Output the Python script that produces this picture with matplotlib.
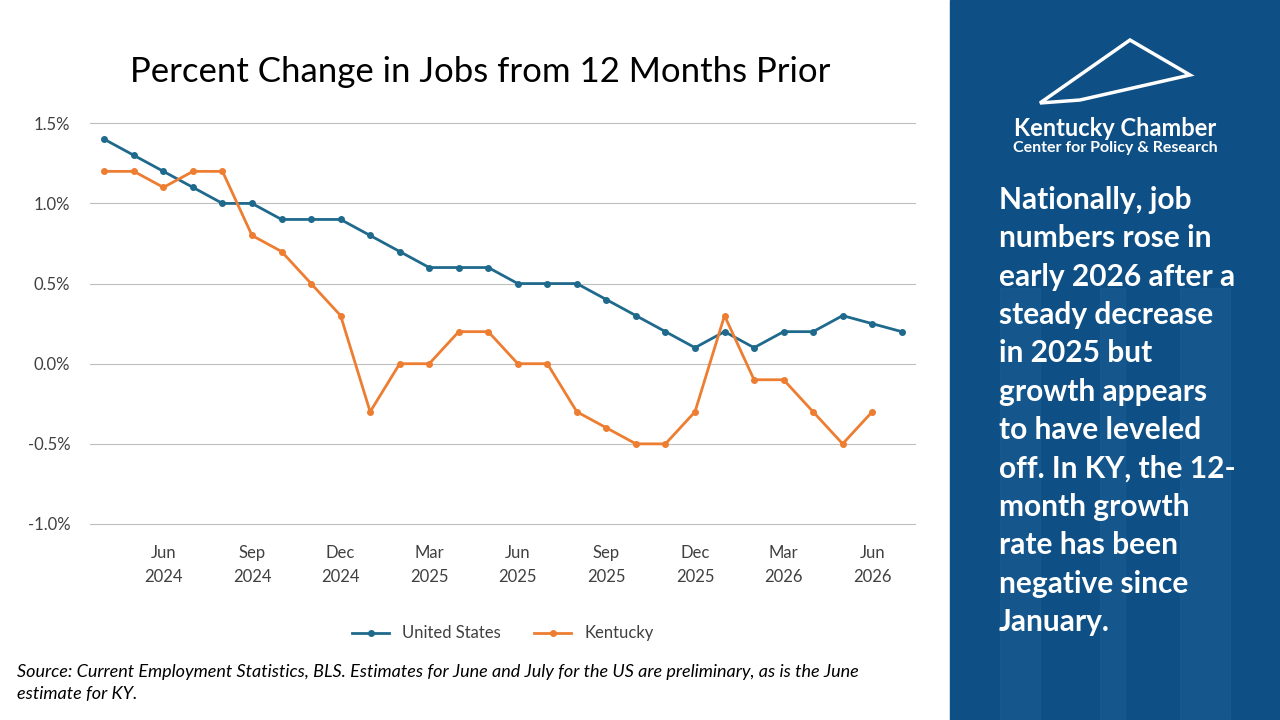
import matplotlib.pyplot as plt
from matplotlib.patches import Rectangle, Polygon

plt.rcParams["font.family"] = ["Lato", "DejaVu Sans"]

months = ["Apr 2024", "May 2024", "Jun 2024", "Jul 2024", "Aug 2024", "Sep 2024", "Oct 2024",
          "Nov 2024", "Dec 2024", "Jan 2025", "Feb 2025", "Mar 2025", "Apr 2025", "May 2025",
          "Jun 2025", "Jul 2025", "Aug 2025", "Sep 2025", "Oct 2025", "Nov 2025", "Dec 2025",
          "Jan 2026", "Feb 2026", "Mar 2026", "Apr 2026", "May 2026", "Jun 2026", "Jul 2026"]
us = [1.4, 1.3, 1.2, 1.1, 1.0, 1.0, 0.9, 0.9, 0.9, 0.8, 0.7, 0.6, 0.6, 0.6, 0.5, 0.5, 0.5,
      0.4, 0.3, 0.2, 0.1, 0.2, 0.1, 0.2, 0.2, 0.3, 0.25, 0.2]
ky = [1.2, 1.2, 1.1, 1.2, 1.2, 0.8, 0.7, 0.5, 0.3, -0.3, 0.0, 0.0, 0.2, 0.2, 0.0, 0.0, -0.3,
      -0.4, -0.5, -0.5, -0.3, 0.3, -0.1, -0.1, -0.3, -0.5, -0.3]
tick_idx = [2, 5, 8, 11, 14, 17, 20, 23, 26]
tick_labels = [months[i].replace(" ", "\n") for i in tick_idx]

blue = "#1f6a8c"
orange = "#ed7d31"

fig = plt.figure(figsize=(12.8, 7.2), dpi=100)
fig.patch.set_facecolor("white")
ax = fig.add_axes([0.070, 0.270, 0.646, 0.561])
ax.plot(range(len(us)), us, color=blue, lw=2, marker="o", ms=4, label="United States")
ax.plot(range(len(ky)), ky, color=orange, lw=2, marker="o", ms=4, label="Kentucky")
ax.set_xlim(-0.5, 27.5)
ax.set_ylim(-1.01, 1.51)
ax.set_yticks([-1.0, -0.5, 0.0, 0.5, 1.0, 1.5])
ax.set_yticklabels([f"{v:.1f}%" for v in [-1.0, -0.5, 0.0, 0.5, 1.0, 1.5]])
ax.set_xticks(tick_idx)
ax.set_xticklabels(tick_labels, linespacing=1.6)
ax.grid(axis="y", color="#bfbfbf", lw=0.8)
ax.set_axisbelow(True)
for s in ax.spines.values():
    s.set_visible(False)
ax.tick_params(length=0, labelsize=12, colors="#404040", pad=14)
ax.legend(loc="upper center", bbox_to_anchor=(0.5, -0.21), ncol=2, frameon=False,
          fontsize=12, labelcolor="#404040", handlelength=2.2)

fig.text(0.375, 0.9, "Percent Change in Jobs from 12 Months Prior", ha="center",
         va="center", fontsize=25, color="black")
fig.text(0.013, 0.051, "Source: Current Employment Statistics, BLS. Estimates for June and July for the US are preliminary, as is the June\nestimate for KY.",
         fontsize=13, style="italic", va="center", linespacing=1.45)

# right panel
fig.patches.append(Rectangle((950 / 1280, 0), 330 / 1280, 1, transform=fig.transFigure,
                             color="#0e4f85", zorder=0))
for x0, w in [(1000, 40), (1100, 25), (1180, 50)]:
    fig.patches.append(Rectangle((x0 / 1280, 0), w / 1280, 0.6, transform=fig.transFigure,
                                 color="#1a5e94", zorder=0, alpha=0.6))
fig.patches.append(Polygon([(1040 / 1280, 1 - 103 / 720), (1130 / 1280, 1 - 40 / 720),
                            (1190 / 1280, 1 - 75 / 720), (1080 / 1280, 1 - 100 / 720)],
                           closed=True, transform=fig.transFigure, fill=False,
                           edgecolor="white", lw=2.5))
fig.text(1115 / 1280, 1 - 129 / 720, "Kentucky Chamber", color="white", fontsize=17,
         weight="bold", ha="center", va="center")
fig.text(1115 / 1280, 1 - 148 / 720, "Center for Policy & Research", color="white",
         fontsize=11.5, weight="bold", ha="center", va="center")
fig.text(999 / 1280, 1 - 186 / 720,
         "Nationally, job\nnumbers rose in\nearly 2026 after a\nsteady decrease\nin 2025 but\ngrowth appears\nto have leveled\noff. In KY, the 12-\nmonth growth\nrate has been\nnegative since\nJanuary.",
         color="white", fontsize=21.5, weight="bold", ha="left", va="top", linespacing=1.45)

fig.savefig("out.png", dpi=100)
